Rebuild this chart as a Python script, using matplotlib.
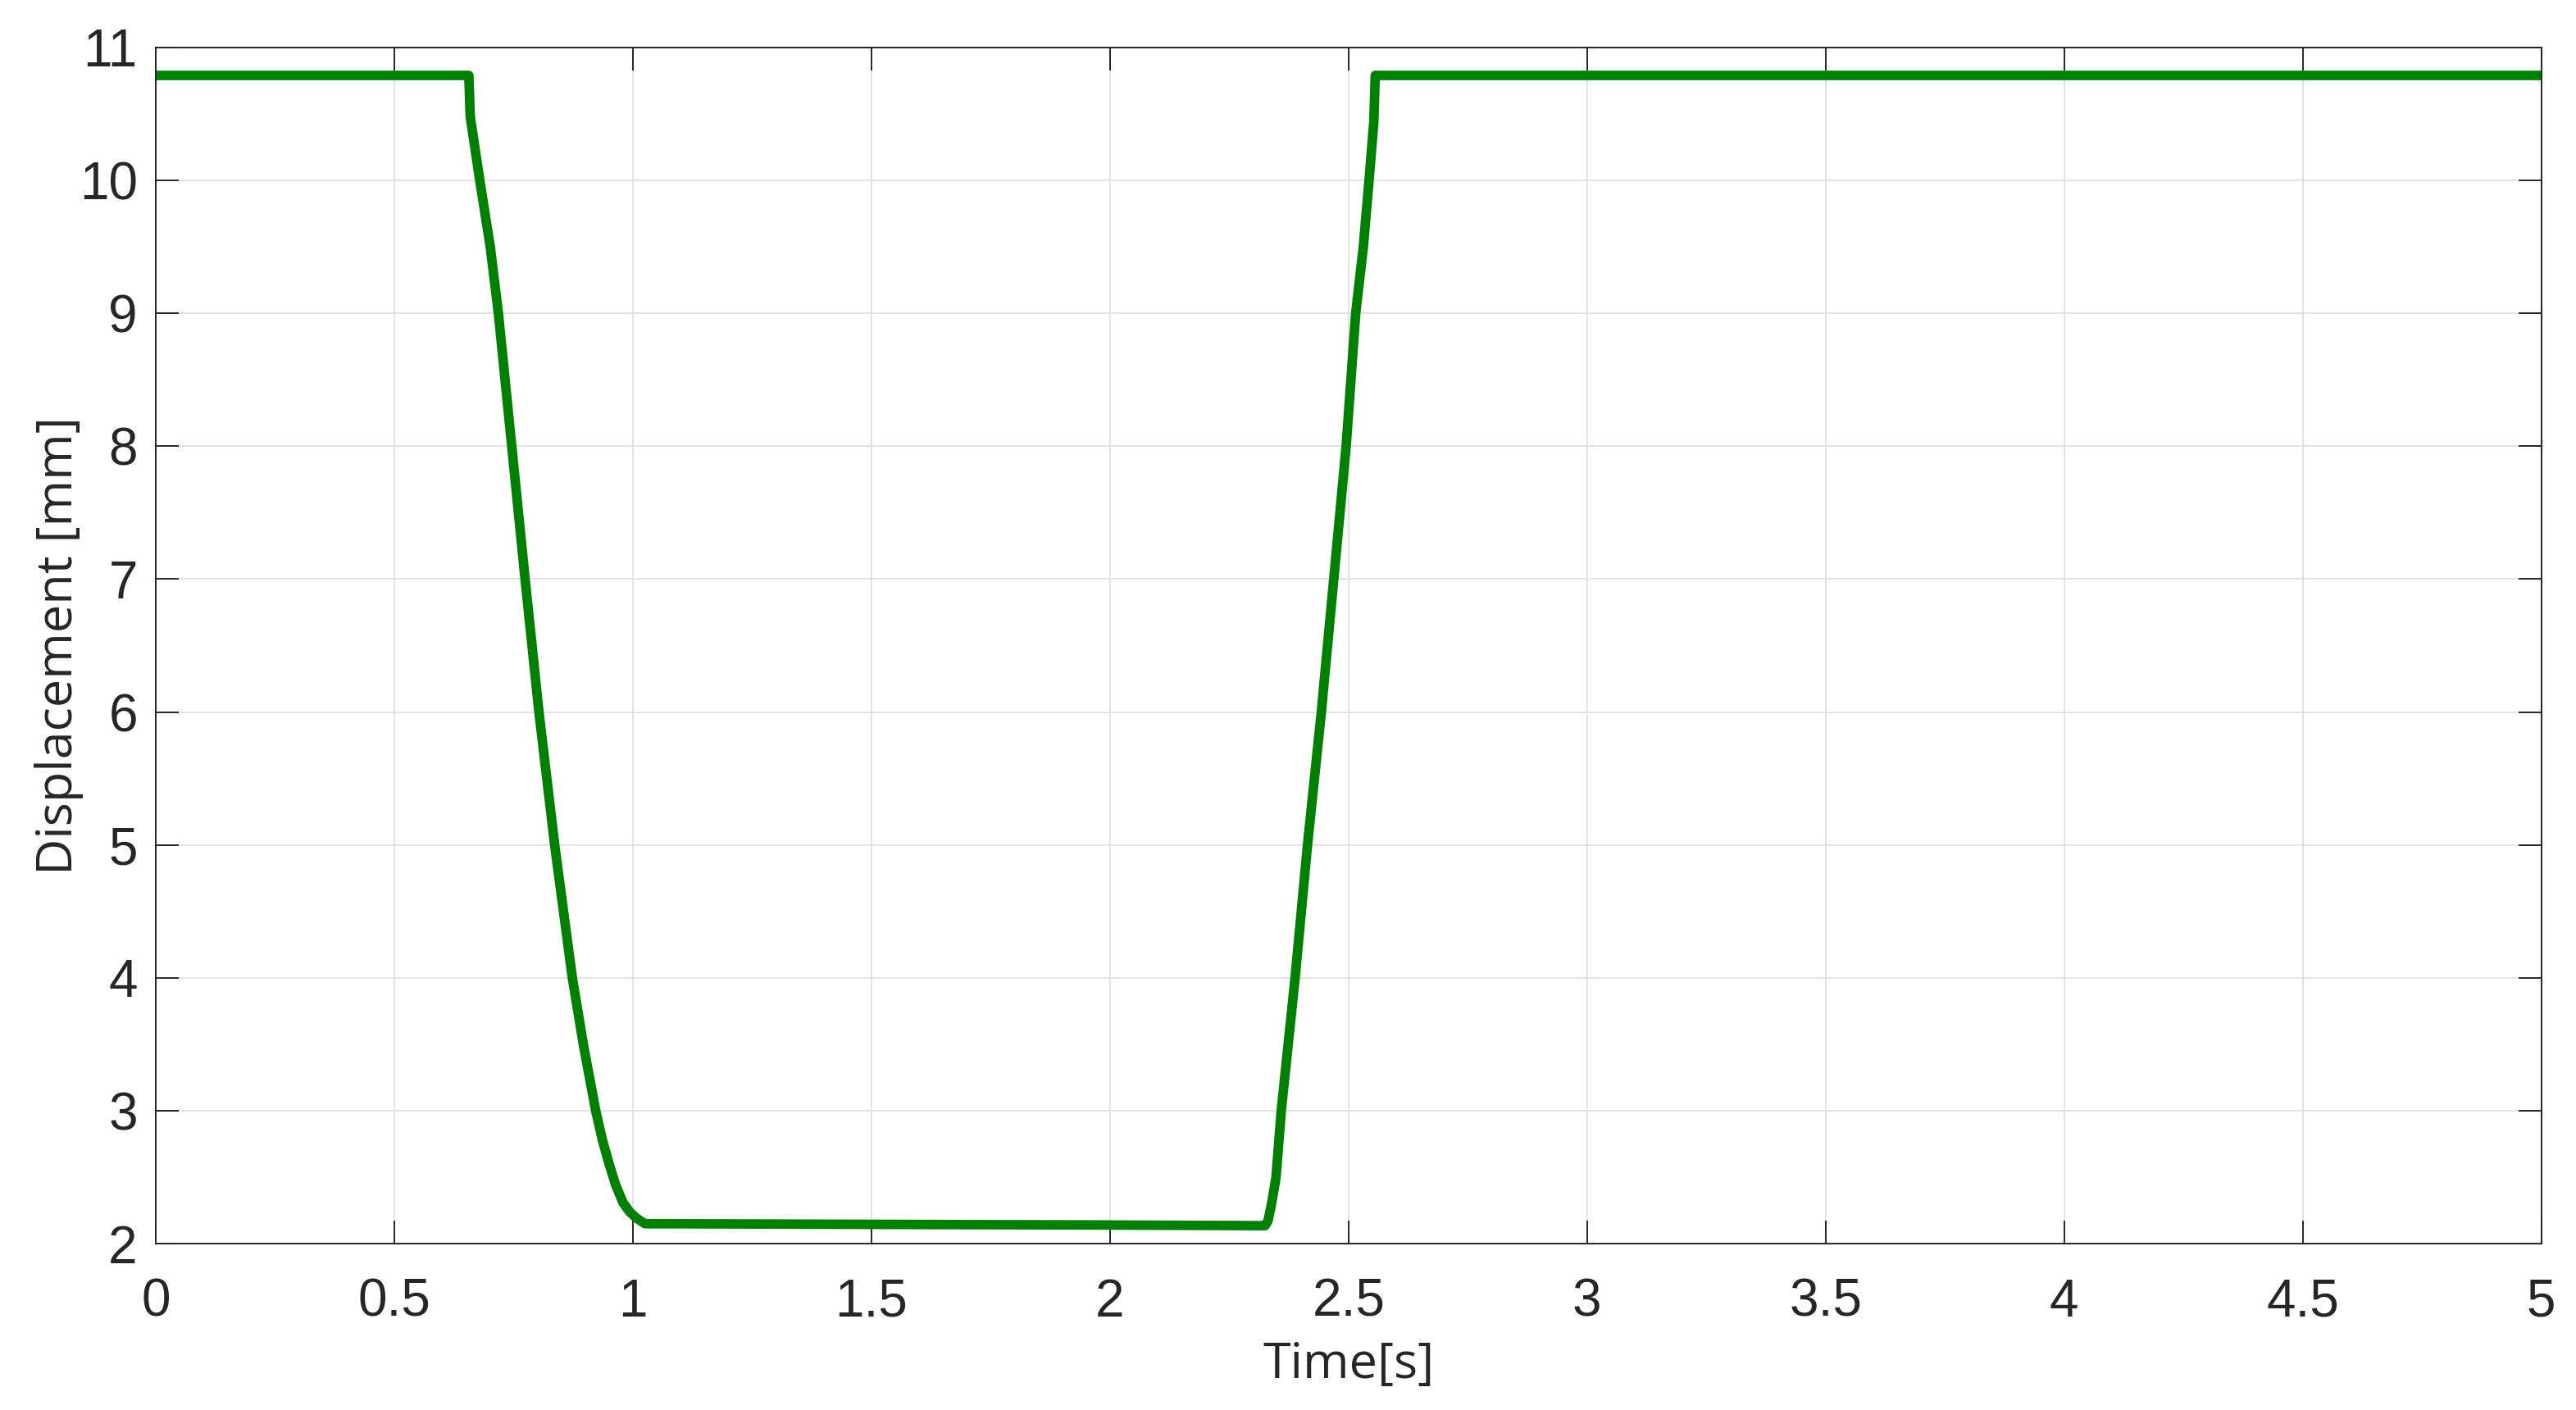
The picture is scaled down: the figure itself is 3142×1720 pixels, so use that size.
import matplotlib
matplotlib.use("Agg")
import matplotlib.pyplot as plt

# values
time_s = [0.0, 0.656, 0.659, 0.679, 0.690, 0.701, 0.718, 0.746, 0.774, 0.803,
          0.836, 0.873, 0.896, 0.922, 0.936, 0.950, 0.964, 0.979, 0.993,
          1.008, 1.025, 1.5, 2.0, 2.325,
          2.331, 2.337, 2.342, 2.348, 2.359, 2.388, 2.414, 2.443, 2.469,
          2.495, 2.515, 2.531, 2.543, 2.553, 2.556, 5.0]
disp_mm = [10.79, 10.79, 10.48, 10.0, 9.75, 9.5, 9.0, 8.0, 7.0, 6.0,
           5.0, 4.0, 3.5, 3.0, 2.78, 2.6, 2.44, 2.31, 2.24,
           2.19, 2.15, 2.145, 2.14, 2.135,
           2.17, 2.27, 2.37, 2.5, 3.0, 4.0, 5.0, 6.0, 7.0,
           8.0, 9.0, 9.5, 10.0, 10.44, 10.79, 10.79]

x_ticks = [0, 0.5, 1, 1.5, 2, 2.5, 3, 3.5, 4, 4.5, 5]
x_labels = ["0", "0.5", "1", "1.5", "2", "2.5", "3", "3.5", "4", "4.5", "5"]
y_ticks = [2, 3, 4, 5, 6, 7, 8, 9, 10, 11]

dpi = 200
fig = plt.figure(figsize=(3142 / dpi, 1720 / dpi), dpi=dpi)
ax = fig.add_axes([0.0605, 0.118, 0.926, 0.8483])

ax.plot(time_s, disp_mm, color="#008000", linewidth=4.2,
        solid_joinstyle="round")

ax.set_xlim(0, 5)
ax.set_ylim(2, 11)
ax.set_xticks(x_ticks)
ax.set_xticklabels(x_labels)
ax.set_yticks(y_ticks)

ax.grid(True, color="#dedede", linewidth=0.6)
ax.set_axisbelow(True)

for s in ax.spines.values():
    s.set_color("#262626")
    s.set_linewidth(0.7)

ax.tick_params(axis="both", which="major", direction="in", length=10, width=0.7,
               color="#262626", labelcolor="#262626", labelsize=23,
               top=True, right=True)
ax.tick_params(axis="x", pad=15)
ax.tick_params(axis="y", pad=8)
for lab in ax.get_xticklabels() + ax.get_yticklabels():
    lab.set_family("Liberation Sans")

ax.set_xlabel("Time[s]", fontsize=22, family="Open Sans", color="#262626", labelpad=6)
ax.set_ylabel("Displacement [mm]", fontsize=22, family="Open Sans", color="#262626", labelpad=-2)

fig.savefig("out.png", dpi=dpi, facecolor="white")
